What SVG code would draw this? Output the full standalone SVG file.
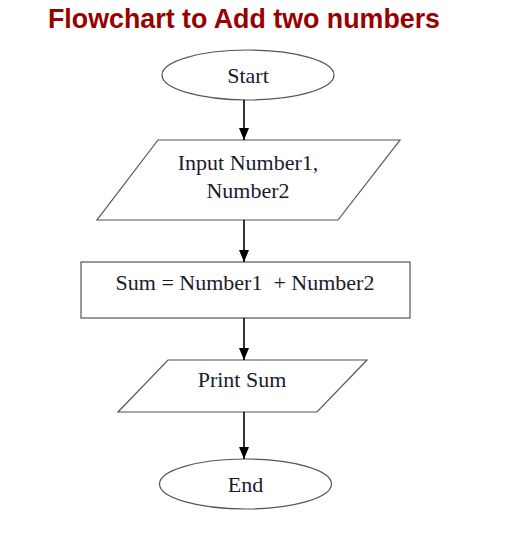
<svg xmlns="http://www.w3.org/2000/svg" width="529" height="538" viewBox="0 0 529 538">
<defs>
<style>
.shape{fill:#fff;stroke:#555;stroke-width:1.2}
.lbl{font-family:"Liberation Serif","Times New Roman",serif;font-size:22px;fill:#1a1a2e;text-anchor:middle}
.conn{stroke:#000;stroke-width:1.6;fill:none;marker-end:url(#arr)}
</style>
<marker id="arr" markerWidth="12" markerHeight="10" refX="12" refY="5" orient="auto" markerUnits="userSpaceOnUse">
<path d="M0,0 L12,5 L0,10 Z" fill="#000"/>
</marker>
</defs>
<rect width="529" height="538" fill="#fff"/>
<text x="48" y="28" font-family="Liberation Sans,Arial,sans-serif" font-weight="bold" font-size="26.8" fill="#990000">Flowchart to Add two numbers</text>
<g id="start">
<ellipse class="shape" cx="248" cy="75" rx="86" ry="25"/>
<text class="lbl" x="248" y="83">Start</text>
</g>
<g id="input">
<polygon class="shape" points="158,140 400,140 338,220 97,220"/>
<text class="lbl" x="248" y="170">Input Number1,</text>
<text class="lbl" x="248" y="198">Number2</text>
</g>
<g id="sum">
<rect class="shape" x="81" y="262" width="329" height="56"/>
<text class="lbl" x="245" y="290" xml:space="preserve">Sum = Number1  + Number2</text>
</g>
<g id="print">
<polygon class="shape" points="168,360 367,360 317,412 118,412"/>
<text class="lbl" x="242" y="387">Print Sum</text>
</g>
<g id="end">
<ellipse class="shape" cx="245.5" cy="484" rx="86" ry="25"/>
<text class="lbl" x="245.5" y="492">End</text>
</g>
<g id="connectors">
<line class="conn" x1="244" y1="100" x2="244" y2="140"/>
<line class="conn" x1="244" y1="220" x2="244" y2="262"/>
<line class="conn" x1="244" y1="318" x2="244" y2="360"/>
<line class="conn" x1="244" y1="412" x2="244" y2="459"/>
</g>
</svg>
